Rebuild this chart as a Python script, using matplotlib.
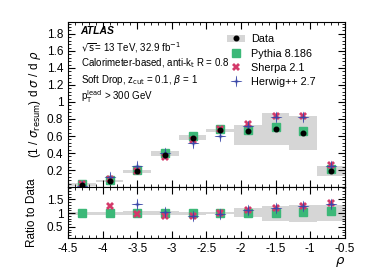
import numpy as np
import matplotlib
matplotlib.use("Agg")
import matplotlib.pyplot as plt
from matplotlib.ticker import MultipleLocator, FormatStrFormatter
from matplotlib.patches import Patch
from matplotlib.path import Path

# ---- data -------------------------------------------------------------
rho       = [-4.3, -3.9, -3.5, -3.1, -2.7, -2.3, -1.9, -1.5, -1.1, -0.7]
data      = [0.03, 0.07, 0.19, 0.38, 0.58, 0.67, 0.66, 0.68, 0.64, 0.19]
band_lo   = [0.01, 0.06, 0.165, 0.36, 0.553, 0.65, 0.50, 0.50, 0.43, 0.13]
band_hi   = [0.05, 0.08, 0.20, 0.42, 0.615, 0.686, 0.73, 0.867, 0.84, 0.247]
pythia    = [0.04, 0.08, 0.20, 0.40, 0.60, 0.68, 0.67, 0.71, 0.66, 0.21]
sherpa    = [0.04, 0.10, 0.19, 0.35, 0.55, 0.68, 0.74, 0.835, 0.835, 0.26]
herwig    = [0.01, 0.12, 0.25, 0.40, 0.52, 0.60, 0.72, 0.82, 0.82, 0.25]

r_band_lo = [0.95, 0.94, 0.93, 0.93, 0.95, 0.96, 0.85, 0.73, 0.69, 0.70]
r_band_hi = [1.05, 1.06, 1.07, 1.07, 1.05, 1.04, 1.18, 1.27, 1.30, 1.30]
r_pythia  = [1.0, 1.0, 1.0, 1.02, 1.02, 1.0, 1.02, 1.02, 1.03, 1.08]
r_sherpa  = [np.nan, 1.27, 0.98, 0.90, 0.90, 1.02, 1.12, 1.20, 1.28, 1.36]
r_herwig  = [np.nan, np.nan, 1.33, 1.06, 0.90, 0.98, 1.10, 1.20, 1.27, 1.34]

BIN_W = 0.4
C_PY = "#3cb878"
C_SH = "#d43a6a"
C_HW = "#3a48a8"
C_BAND = "#d6d6d6"

# thin four-pointed star, like ROOT's open cross
_r, _i = 1.0, 0.15
_v = []
for k in range(4):
    a = np.pi / 2 * k
    _v.append((_r * np.cos(a), _r * np.sin(a)))
    b = a + np.pi / 4
    _v.append((_i * np.cos(b), _i * np.sin(b)))
_v.append(_v[0])
STAR = Path(_v, [Path.MOVETO] + [Path.LINETO] * 7 + [Path.CLOSEPOLY])

plt.rcParams["font.family"] = ["Liberation Sans", "DejaVu Sans"]
plt.rcParams["hatch.color"] = "#9c9c9c"
plt.rcParams["hatch.linewidth"] = 0.5

fig = plt.figure(figsize=(3.74, 2.68), dpi=100)
ax = fig.add_axes([0.182, 0.302, 0.740, 0.616])
axr = fig.add_axes([0.182, 0.112, 0.740, 0.190], sharex=ax)

lo = np.array(band_lo); hi = np.array(band_hi)
ax.bar(rho, hi - lo, bottom=lo, width=BIN_W, color=C_BAND, hatch="//////",
       edgecolor="none", lw=0, zorder=1)
ax.plot(rho, pythia, ls="none", marker="s", ms=6, color=C_PY, zorder=2)
ax.plot(rho, sherpa, ls="none", marker="X", ms=6, color=C_SH, mew=0, zorder=3)
ax.plot(rho, herwig, ls="none", marker=STAR, ms=8, color=C_HW, mew=0.3, zorder=4)
ax.plot(rho, data, ls="none", marker="o", ms=3.3, color="black", zorder=5)

rlo = np.array(r_band_lo); rhi = np.array(r_band_hi)
axr.bar(rho, rhi - rlo, bottom=rlo, width=BIN_W, color=C_BAND, hatch="//////",
        edgecolor="none", lw=0, zorder=1)
axr.plot(rho, r_pythia, ls="none", marker="s", ms=6, color=C_PY, zorder=2)
axr.plot(rho, r_sherpa, ls="none", marker="X", ms=6, color=C_SH, mew=0, zorder=3)
axr.plot(rho, r_herwig, ls="none", marker=STAR, ms=8, color=C_HW, mew=0.3, zorder=4)

ax.set_xlim(-4.5, -0.5)
ax.set_ylim(0.0, 1.94)
axr.set_ylim(0.1, 1.95)

for a in (ax, axr):
    a.tick_params(which="both", direction="in", top=True, right=True, labelsize=8.5)
    a.tick_params(which="major", length=5, width=0.8)
    a.tick_params(which="minor", length=2.5, width=0.6)
    a.xaxis.set_major_locator(MultipleLocator(0.5))
    a.xaxis.set_minor_locator(MultipleLocator(0.1))
    for s in a.spines.values():
        s.set_linewidth(0.8)

ax.tick_params(labelbottom=False)
ax.yaxis.set_minor_locator(MultipleLocator(0.04))
ax.set_yticks([0.2, 0.4, 0.6, 0.8, 1.0, 1.2, 1.4, 1.6, 1.8])
ax.set_yticklabels(["0.2", "0.4", "0.6", "0.8", "1", "1.2", "1.4", "1.6", "1.8"])
axr.set_yticks([0.5, 1.0, 1.5])
axr.set_yticklabels(["0.5", "1", "1.5"])
axr.yaxis.set_minor_locator(MultipleLocator(0.1))
axr.xaxis.set_major_formatter(FormatStrFormatter("%g"))

ax.set_ylabel(r"(1 / $\sigma_{\rm resum}$) d $\sigma$ / d $\rho$", fontsize=8.5, labelpad=3)
axr.set_ylabel("Ratio to Data", fontsize=8.5, labelpad=6)
axr.set_xlabel(r"$\rho$", fontsize=9.5, loc="right", labelpad=0)

# annotations
tx = 0.045
ax.text(tx, 0.945, "ATLAS", transform=ax.transAxes, fontsize=7.5, fontweight="bold",
        style="italic", va="center")
ax.text(tx, 0.845, r"$\sqrt{\rm s}$= 13 TeV, 32.9 fb$^{-1}$", transform=ax.transAxes,
        fontsize=7, va="center")
ax.text(tx, 0.75, r"Calorimeter-based, anti-k$_{\rm t}$ R = 0.8", transform=ax.transAxes,
        fontsize=7, va="center")
ax.text(tx, 0.65, r"Soft Drop, z$_{\rm cut}$ = 0.1, $\beta$ = 1", transform=ax.transAxes,
        fontsize=7, va="center")
ax.text(tx, 0.545, r"p$_{\rm T}^{\rm lead}$ > 300 GeV", transform=ax.transAxes,
        fontsize=7, va="center")

h_data = (Patch(facecolor=C_BAND, hatch="//////", edgecolor="none"),
          plt.Line2D([], [], ls="none", marker="o", ms=3.3, color="black"))
h_py = plt.Line2D([], [], ls="none", marker="s", ms=6, color=C_PY)
h_sh = plt.Line2D([], [], ls="none", marker="X", ms=6, color=C_SH, mew=0)
h_hw = plt.Line2D([], [], ls="none", marker=STAR, ms=8, color=C_HW, mew=0.3)
ax.legend([h_data, h_py, h_sh, h_hw], ["Data", "Pythia 8.186", "Sherpa 2.1", "Herwig++ 2.7"],
          loc="upper right", bbox_to_anchor=(0.93, 0.985), frameon=False, fontsize=7.8,
          handlelength=1.6, handletextpad=0.6, labelspacing=0.4)

fig.savefig("out.png", dpi=100)
